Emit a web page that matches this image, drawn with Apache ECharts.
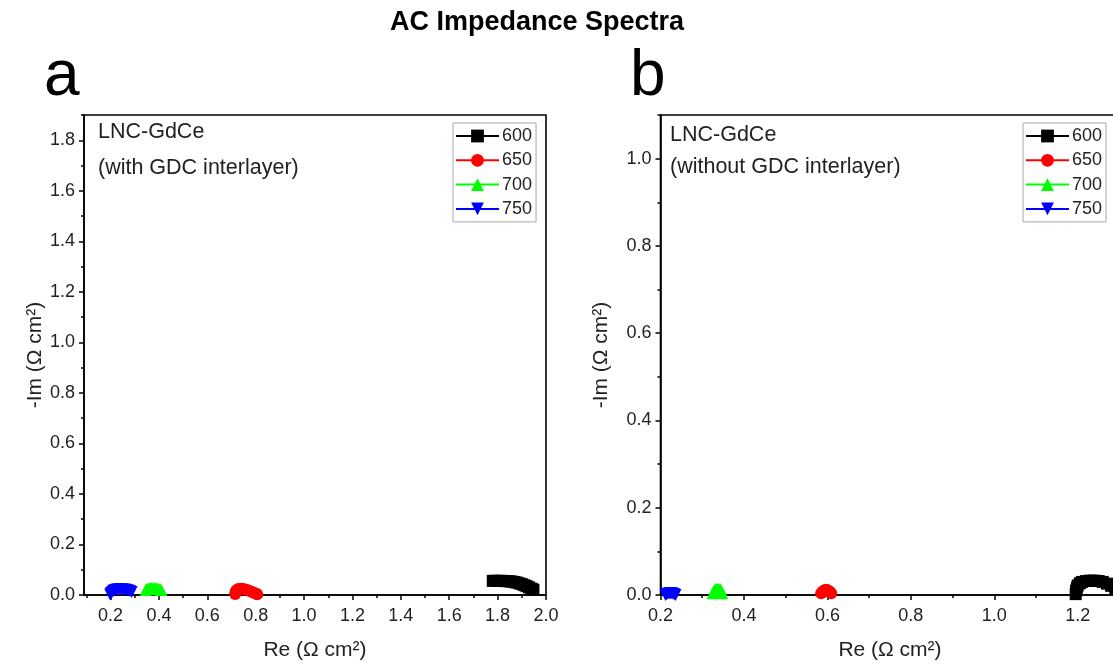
<!DOCTYPE html>
<html><head><meta charset="utf-8">
<script src="https://cdn.jsdelivr.net/npm/echarts@6/dist/echarts.min.js"></script>
<style>html,body{margin:0;padding:0;background:#fff}#c{width:1113px;height:666px}</style>
</head><body><div id="c"></div>
<script>
const seriesNames = ['600', '650', '700', '750'];

// Panel a: LNC-GdCe (with GDC interlayer)
const a600x = [1.78, 1.79, 1.80, 1.81, 1.82, 1.83, 1.84, 1.85, 1.86, 1.87, 1.88, 1.89, 1.90, 1.91, 1.92, 1.93, 1.94, 1.948];
const a600y = [0.056, 0.056, 0.056, 0.056, 0.056, 0.055, 0.055, 0.054, 0.053, 0.051, 0.049, 0.046, 0.043, 0.039, 0.035, 0.030, 0.025, 0.021];
const a650x = [0.715, 0.717, 0.72, 0.725, 0.73, 0.74, 0.75, 0.76, 0.77, 0.78, 0.79, 0.80, 0.806];
const a650y = [0.004, 0.012, 0.018, 0.022, 0.024, 0.025, 0.024, 0.021, 0.018, 0.014, 0.010, 0.006, 0.003];
const a700x = [0.345, 0.35, 0.355, 0.36, 0.365, 0.37, 0.375, 0.38, 0.385, 0.39, 0.395, 0.40, 0.405, 0.41];
const a700y = [0.020, 0.024, 0.026, 0.027, 0.027, 0.027, 0.027, 0.027, 0.026, 0.026, 0.025, 0.024, 0.022, 0.020];
const a750x = [0.198, 0.202, 0.207, 0.212, 0.218, 0.225, 0.232, 0.24, 0.248, 0.256, 0.264, 0.272, 0.28, 0.287];
const a750y = [0.002, 0.008, 0.013, 0.017, 0.020, 0.022, 0.023, 0.023, 0.023, 0.022, 0.021, 0.019, 0.016, 0.012];

// Panel b: LNC-GdCe (without GDC interlayer)
const b600x = [1.195, 1.196, 1.198, 1.20, 1.205, 1.21, 1.22, 1.23, 1.24, 1.25, 1.26, 1.27, 1.28, 1.29, 1.30, 1.31, 1.315];
const b600y = [0.002, 0.010, 0.017, 0.022, 0.027, 0.030, 0.032, 0.033, 0.033, 0.032, 0.030, 0.026, 0.021, 0.016, 0.010, 0.005, 0.001];
const b650x = [0.585, 0.589, 0.593, 0.597, 0.601, 0.605, 0.609];
const b650y = [0.004, 0.008, 0.011, 0.012, 0.011, 0.008, 0.004];
const b700x = [0.325, 0.328, 0.331, 0.334, 0.337, 0.340, 0.343, 0.346, 0.348];
const b700y = [0.004, 0.010, 0.013, 0.014, 0.014, 0.014, 0.013, 0.010, 0.004];
const b750x = [0.212, 0.215, 0.218, 0.221, 0.224, 0.227, 0.230, 0.233, 0.236];
const b750y = [0.000, 0.002, 0.003, 0.004, 0.004, 0.004, 0.003, 0.002, 0.000];

// Tick values
const xTicksA = [0.2, 0.4, 0.6, 0.8, 1.0, 1.2, 1.4, 1.6, 1.8, 2.0];
const xMinorA = [0.1, 0.3, 0.5, 0.7, 0.9, 1.1, 1.3, 1.5, 1.7, 1.9];
const yTicksA = [0.0, 0.2, 0.4, 0.6, 0.8, 1.0, 1.2, 1.4, 1.6, 1.8];
const yMinorA = [0.1, 0.3, 0.5, 0.7, 0.9, 1.1, 1.3, 1.5, 1.7, 1.9];
const xTicksB = [0.2, 0.4, 0.6, 0.8, 1.0, 1.2];
const xMinorB = [0.3, 0.5, 0.7, 0.9, 1.1, 1.3];
const yTicksB = [0.0, 0.2, 0.4, 0.6, 0.8, 1.0];
const yMinorB = [0.1, 0.3, 0.5, 0.7, 0.9, 1.1];

const zip = (xs, ys) => xs.map((x, i) => [x, ys[i]]);

const FONT = 'Liberation Sans, Arial, sans-serif';
const colors = ['#000000', '#ff0000', '#00ff00', '#0000ff'];
const symbols = ['rect', 'circle', 'triangle', 'triangle'];
const rotates = [0, 0, 0, 180];

function mainAxis(dim, grid, min, max, ticks, name, gap) {
  return {
    type: 'value', gridIndex: grid, min: min, max: max,
    position: dim === 'x' ? 'bottom' : 'left',
    name: name, nameLocation: 'middle', nameGap: gap,
    nameTextStyle: { fontFamily: FONT, fontSize: 21, color: '#222' },
    axisLine: { show: true, onZero: false, lineStyle: { color: '#000', width: 1.6 } },
    axisTick: { show: true, inside: false, length: 5, customValues: ticks, lineStyle: { color: '#000', width: 1.5 } },
    axisLabel: { show: true, customValues: ticks, margin: dim === 'x' ? 12 : 9, fontFamily: FONT, fontSize: 18, color: '#222',
      formatter: v => Number(v).toFixed(1) },
    splitLine: { show: false }
  };
}
function minorAxis(dim, grid, min, max, ticks) {
  return {
    type: 'value', gridIndex: grid, min: min, max: max,
    position: dim === 'x' ? 'bottom' : 'left',
    axisLine: { show: false, onZero: false },
    axisTick: { show: true, inside: false, length: 3, customValues: ticks, lineStyle: { color: '#000', width: 1.5 } },
    axisLabel: { show: false },
    splitLine: { show: false }
  };
}

const xName = 'Re (Ω cm²)';
const yName = '-Im (Ω cm²)';

const allData = [
  [zip(a600x, a600y), zip(a650x, a650y), zip(a700x, a700y), zip(a750x, a750y)],
  [zip(b600x, b600y), zip(b650x, b650y), zip(b700x, b700y), zip(b750x, b750y)]
];

const series = [];
allData.forEach((panel, p) => {
  panel.forEach((d, i) => {
    series.push({
      type: 'line', name: seriesNames[i], data: d,
      xAxisIndex: p * 2, yAxisIndex: p * 2,
      symbol: symbols[i], symbolRotate: rotates[i], symbolSize: 12,
      showSymbol: true, showAllSymbol: true, clip: false,
      itemStyle: { color: colors[i] },
      lineStyle: { color: colors[i], width: 1 },
      animation: false, z: 3
    });
  });
});

function legendAt(left) {
  return {
    data: seriesNames, orient: 'vertical', left: left, top: 123,
    itemWidth: 43, itemHeight: 16, itemGap: 6.3, padding: [4, 4, 4, 2],
    borderColor: '#a8a8a8', borderWidth: 1, backgroundColor: '#fff',
    textStyle: { fontFamily: FONT, fontSize: 18, color: '#222', padding: [0, 0, 0, -2] },
    selectedMode: false
  };
}

const gridBase = { top: 115, height: 480, show: true, borderColor: '#000', borderWidth: 1.6, backgroundColor: 'transparent', outerBoundsMode: 'none', containLabel: false };

const option = {
  animation: false,
  backgroundColor: '#fff',
  grid: [
    Object.assign({ left: 84, width: 462 }, gridBase),
    Object.assign({ left: 660.5, width: 459 }, gridBase)
  ],
  xAxis: [
    mainAxis('x', 0, 0.09, 2.0, xTicksA, xName, 45),
    minorAxis('x', 0, 0.09, 2.0, xMinorA),
    mainAxis('x', 1, 0.2, 1.3, xTicksB, xName, 45),
    minorAxis('x', 1, 0.2, 1.3, xMinorB)
  ],
  yAxis: [
    mainAxis('y', 0, 0, 1.9, yTicksA, yName, 33),
    minorAxis('y', 0, 0, 1.9, yMinorA),
    mainAxis('y', 1, 0, 1.1, yTicksB, yName, 49),
    minorAxis('y', 1, 0, 1.1, yMinorB)
  ],
  legend: [legendAt(453), legendAt(1023)],
  series: series,
  graphic: [
    { type: 'text', x: 537, y: 9, style: { text: 'AC Impedance Spectra', align: 'center', font: 'bold 27px "Liberation Sans", Arial, sans-serif', fill: '#000' } },
    { type: 'text', left: 44, top: 45, style: { text: 'a', font: '64px "Liberation Sans", Arial, sans-serif', fill: '#000' } },
    { type: 'text', left: 630, top: 45, style: { text: 'b', font: '64px "Liberation Sans", Arial, sans-serif', fill: '#000' } },
    { type: 'text', left: 98, top: 114, style: { text: 'LNC-GdCe\n(with GDC interlayer)', font: '21.5px "Liberation Sans", Arial, sans-serif', lineHeight: 36, fill: '#222' } },
    { type: 'text', left: 670, top: 119, style: { text: 'LNC-GdCe\n(without GDC interlayer)', font: '21.5px "Liberation Sans", Arial, sans-serif', lineHeight: 32, fill: '#222' } }
  ]
};

const chart = echarts.init(document.getElementById('c'), null, { renderer: 'canvas' });
chart.setOption(option);
</script>
</body></html>
